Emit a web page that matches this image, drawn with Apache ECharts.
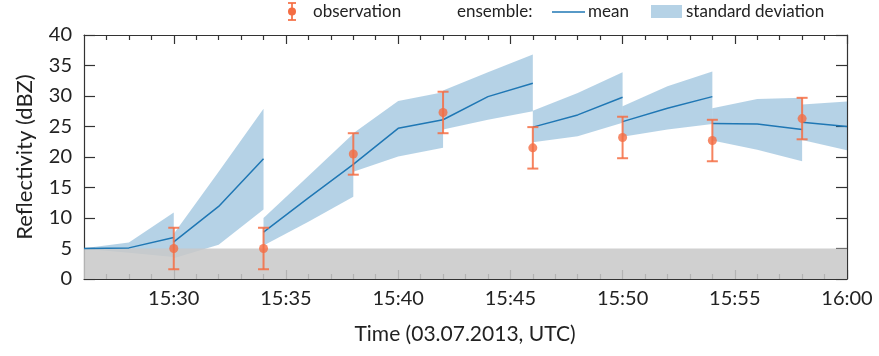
<!DOCTYPE html>
<html>
<head>
<meta charset="utf-8">
<script src="https://cdn.jsdelivr.net/npm/echarts@6/dist/echarts.min.js"></script>
<style>
  html, body { margin: 0; padding: 0; background: #ffffff; }
  #chart { width: 879px; height: 356px; }
</style>
</head>
<body>
<div id="chart"></div>
<script>
// Ensemble forecast segments (each restarts after an assimilation step)
const segTimes = [
  ["15:26", "15:28", "15:30"],
  ["15:30", "15:32", "15:34"],
  ["15:34", "15:36", "15:38"],
  ["15:38", "15:40", "15:42"],
  ["15:42", "15:44", "15:46"],
  ["15:46", "15:48", "15:50"],
  ["15:50", "15:52", "15:54"],
  ["15:54", "15:56", "15:58"],
  ["15:58", "16:00"]
];
const segMean = [
  [5.0, 5.1, 6.8],
  [6.1, 11.9, 19.7],
  [7.7, 13.3, 18.8],
  [18.8, 24.7, 26.1],
  [26.1, 29.9, 32.1],
  [24.9, 26.9, 29.8],
  [25.8, 28.0, 29.9],
  [25.5, 25.4, 24.5],
  [25.7, 25.0]
];
const segLower = [
  [4.95, 4.3, 3.6],
  [3.4, 5.6, 11.4],
  [5.5, 9.4, 13.5],
  [17.6, 20.1, 21.5],
  [24.5, 26.1, 27.5],
  [22.4, 23.4, 25.6],
  [23.3, 24.5, 25.4],
  [22.7, 21.2, 19.3],
  [22.8, 21.1]
];
const segUpper = [
  [5.05, 6.0, 10.9],
  [7.4, 17.6, 27.9],
  [10.0, 16.9, 23.8],
  [23.9, 29.2, 30.6],
  [30.9, 33.9, 36.8],
  [27.6, 30.5, 33.9],
  [28.3, 31.6, 34.0],
  [28.0, 29.5, 29.7],
  [28.6, 29.1]
];

// Radar observations with their error
const obsTimes = ["15:30", "15:34", "15:38", "15:42", "15:46", "15:50", "15:54", "15:58"];
const obsValues = [5.0, 5.0, 20.5, 27.3, 21.5, 23.2, 22.7, 26.3];
const obsError = [3.4, 3.4, 3.4, 3.4, 3.4, 3.4, 3.4, 3.4];

// Axis ranges and tick labels
const timeStart = "15:26";
const timeEnd = "16:00";
const xTickLabels = ["15:30", "15:35", "15:40", "15:45", "15:50", "15:55", "16:00"];
const yMin = 0, yMax = 40, yStep = 5;
const noRainThreshold = 5;

const FONT = "Lato";
const BLUE = "#1f77b4";
const BAND = "rgba(31,119,180,0.33)";
const ORANGE = "#f46d43";
const ERR = "rgba(244,109,67,0.85)";
const AXIS = "#333333";
const GRAY = "rgba(200,200,200,0.86)";

function toMin(t) {
  const [h, m] = t.split(":").map(Number);
  return (h - 15) * 60 + m;
}

const xMin = toMin(timeStart), xMax = toMin(timeEnd);
const majorTicks = xTickLabels.map(toMin);
const minorTicks = [];
for (let m = xMin + 1; m < xMax; m++) if (!majorTicks.includes(m)) minorTicks.push(m);
const labelOf = {};
xTickLabels.forEach(l => { labelOf[toMin(l)] = l; });

const chart = echarts.init(document.getElementById("chart"), null, { renderer: "canvas" });

function xAxisDef(pos, ticks, len, showLine, showLabel) {
  return {
    type: "value", min: xMin, max: xMax, position: pos,
    axisLine: { show: showLine, onZero: false, lineStyle: { color: AXIS, width: 1.2 } },
    axisTick: { show: true, inside: true, length: len, customValues: ticks, lineStyle: { color: AXIS, width: 1.2 } },
    axisLabel: showLabel ? {
      show: true, customValues: ticks, margin: 10,
      fontFamily: FONT, fontSize: 20, color: "#222",
      formatter: v => labelOf[v] || ""
    } : { show: false },
    splitLine: { show: false }
  };
}

const meanSeries = segTimes.map((ts, s) => ({
  type: "line", xAxisIndex: 0, yAxisIndex: 0, z: 4,
  data: ts.map((t, i) => [toMin(t), segMean[s][i]]),
  showSymbol: false, symbol: "none", silent: true,
  lineStyle: { color: BLUE, width: 1.5 }
}));

const option = {
  animation: false,
  backgroundColor: "#ffffff",
  grid: { left: 84, right: 32, top: 35, bottom: 77, show: false },
  xAxis: [
    xAxisDef("bottom", majorTicks, 9, true, true),
    xAxisDef("bottom", minorTicks, 5, false, false),
    xAxisDef("top", majorTicks, 9, true, false),
    xAxisDef("top", minorTicks, 5, false, false)
  ],
  yAxis: [
    {
      type: "value", min: yMin, max: yMax, interval: yStep, position: "left",
      name: "Reflectivity (dBZ)", nameLocation: "middle", nameGap: 48, nameRotate: 90,
      nameTextStyle: { fontFamily: FONT, fontSize: 22, color: "#222" },
      axisLine: { show: true, lineStyle: { color: AXIS, width: 1.2 } },
      axisTick: { show: true, inside: true, length: 11, lineStyle: { color: AXIS, width: 1.2 } },
      axisLabel: { fontFamily: FONT, fontSize: 20, color: "#222", margin: 12 },
      splitLine: { show: false }
    },
    {
      type: "value", min: yMin, max: yMax, interval: yStep, position: "right",
      axisLine: { show: true, lineStyle: { color: AXIS, width: 1.2 } },
      axisTick: { show: true, inside: true, length: 11, lineStyle: { color: AXIS, width: 1.2 } },
      axisLabel: { show: false },
      splitLine: { show: false }
    }
  ],
  graphic: [
    // observation legend entry
    { type: "line", shape: { x1: 292, y1: 3, x2: 292, y2: 20 }, style: { stroke: ERR, lineWidth: 2 } },
    { type: "line", shape: { x1: 288, y1: 3, x2: 296, y2: 3 }, style: { stroke: ERR, lineWidth: 2 } },
    { type: "line", shape: { x1: 288, y1: 20, x2: 296, y2: 20 }, style: { stroke: ERR, lineWidth: 2 } },
    { type: "circle", shape: { cx: 292, cy: 11.5, r: 4 }, style: { fill: ORANGE } },
    { type: "text", x: 313, y: 12, style: { text: "observation", fontFamily: FONT, fontSize: 17, fill: "#222", verticalAlign: "middle" } },
    { type: "text", x: 457, y: 12, style: { text: "ensemble:", fontFamily: FONT, fontSize: 17, fill: "#222", verticalAlign: "middle" } },
    { type: "line", shape: { x1: 552, y1: 12, x2: 585, y2: 12 }, style: { stroke: BLUE, lineWidth: 1.5 } },
    { type: "text", x: 588, y: 12, style: { text: "mean", fontFamily: FONT, fontSize: 17, fill: "#222", verticalAlign: "middle" } },
    { type: "rect", shape: { x: 651, y: 5, width: 31, height: 13 }, style: { fill: BAND } },
    { type: "text", x: 686, y: 12, style: { text: "standard deviation", fontFamily: FONT, fontSize: 17, fill: "#222", verticalAlign: "middle" } },
    // x axis title
    { type: "text", x: 465, y: 334, style: { text: "Time (03.07.2013, UTC)", fontFamily: FONT, fontSize: 21, fill: "#222", align: "center", verticalAlign: "middle" } }
  ],
  series: [
    {
      // ensemble spread (mean ± sd) for each forecast segment
      type: "custom", xAxisIndex: 0, yAxisIndex: 0, z: 2, silent: true,
      data: segTimes.map((ts, s) => [s, toMin(ts[0]), segMean[s][0]]),
      encode: { x: 1, y: 2 },
      renderItem: function (params, api) {
        const s = api.value(0);
        const ts = segTimes[s];
        const upper = ts.map((t, i) => api.coord([toMin(t), segUpper[s][i]]));
        const lower = ts.map((t, i) => api.coord([toMin(t), segLower[s][i]])).reverse();
        return {
          type: "polygon",
          shape: { points: upper.concat(lower) },
          style: { fill: BAND }
        };
      }
    },
    {
      // shaded range below the no-rain threshold, drawn over the spread
      type: "custom", xAxisIndex: 0, yAxisIndex: 0, z: 3, silent: true,
      data: [[xMin, yMin, xMax, noRainThreshold]],
      encode: { x: [0, 2], y: [1, 3] },
      renderItem: function (params, api) {
        const p0 = api.coord([api.value(0), api.value(3)]);
        const p1 = api.coord([api.value(2), api.value(1)]);
        return {
          type: "rect",
          shape: { x: p0[0], y: p0[1], width: p1[0] - p0[0], height: p1[1] - p0[1] },
          style: { fill: GRAY }
        };
      }
    },
    ...meanSeries,
    {
      // observation error bars
      type: "custom", xAxisIndex: 0, yAxisIndex: 0, z: 5, silent: true,
      data: obsTimes.map((t, i) => [toMin(t), obsValues[i], obsError[i]]),
      encode: { x: 0, y: 1 },
      renderItem: function (params, api) {
        const x = api.value(0), v = api.value(1), e = api.value(2);
        const hi = api.coord([x, v + e]);
        const lo = api.coord([x, v - e]);
        const half = 5.5;
        const st = { stroke: ERR, lineWidth: 2 };
        return {
          type: "group",
          children: [
            { type: "line", shape: { x1: hi[0], y1: hi[1], x2: lo[0], y2: lo[1] }, style: st },
            { type: "line", shape: { x1: hi[0] - half, y1: hi[1], x2: hi[0] + half, y2: hi[1] }, style: st },
            { type: "line", shape: { x1: lo[0] - half, y1: lo[1], x2: lo[0] + half, y2: lo[1] }, style: st }
          ]
        };
      }
    },
    {
      type: "scatter", xAxisIndex: 0, yAxisIndex: 0, z: 6, silent: true,
      data: obsTimes.map((t, i) => [toMin(t), obsValues[i]]),
      symbol: "circle", symbolSize: 9,
      itemStyle: { color: ORANGE }
    }
  ]
};

chart.setOption(option);
</script>
</body>
</html>
